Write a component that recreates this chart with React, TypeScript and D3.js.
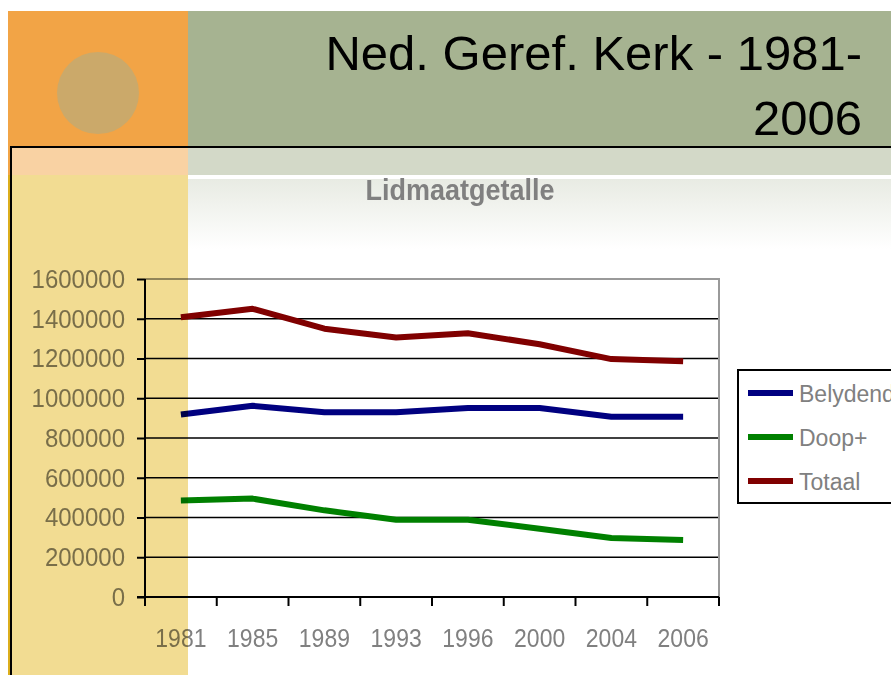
import * as d3 from 'd3';
import { useEffect, useRef } from 'react';

const years = ['1981', '1985', '1989', '1993', '1996', '2000', '2004', '2006'];
const belydende = [918000, 962000, 929000, 929000, 951000, 951000, 907000, 907000];
const doop = [485000, 495000, 436000, 389000, 389000, 343000, 297000, 287000];
const totaal = [1408000, 1450000, 1350000, 1306000, 1327000, 1272000, 1197000, 1186000];
const yTicks = [0, 200000, 400000, 600000, 800000, 1000000, 1200000, 1400000, 1600000];
const seriesNames = ['Belydende', 'Doop+', 'Totaal'];
const seriesColors = ['#000080', '#008000', '#800000'];

const FONT = '"Liberation Sans", Arial, sans-serif';

const App = () => {
  const svgRef = useRef(null);

  useEffect(() => {
    const svg = d3.select(svgRef.current);
    svg.selectAll('*').remove();

    const W = 891;
    const H = 675;
    const plot = { left: 145, right: 719, top: 279, bottom: 597 };

    const defs = svg.append('defs');
    const grad = defs.append('linearGradient')
      .attr('id', 'fade')
      .attr('x1', 0).attr('y1', 0).attr('x2', 0).attr('y2', 1);
    grad.append('stop').attr('offset', '0%').attr('stop-color', '#e8ebe3');
    grad.append('stop').attr('offset', '100%').attr('stop-color', '#ffffff');

    // slide background
    svg.append('rect').attr('width', W).attr('height', H).attr('fill', '#ffffff');
    svg.append('rect').attr('x', 8).attr('y', 11).attr('width', 180).attr('height', 164).attr('fill', '#f2a446');
    svg.append('rect').attr('x', 188).attr('y', 11).attr('width', W - 188).attr('height', 164).attr('fill', '#a6b391');
    svg.append('circle').attr('cx', 98).attr('cy', 93).attr('r', 41).attr('fill', '#cba96a');
    svg.append('rect').attr('x', 11).attr('y', 148).attr('width', W - 11).attr('height', 27)
      .attr('fill', '#ffffff').attr('opacity', 0.5);
    svg.append('rect').attr('x', 188).attr('y', 179).attr('width', W - 188).attr('height', 70)
      .attr('fill', 'url(#fade)');
    svg.append('rect').attr('x', 8).attr('y', 175).attr('width', 3).attr('height', H - 175).attr('fill', '#dcae1c');
    svg.append('line').attr('x1', 11).attr('x2', W).attr('y1', 147).attr('y2', 147)
      .attr('stroke', '#000').attr('stroke-width', 2);
    svg.append('line').attr('x1', 11).attr('x2', 11).attr('y1', 146).attr('y2', H)
      .attr('stroke', '#000').attr('stroke-width', 2);

    // slide title
    const title = svg.append('g')
      .style('font-family', FONT)
      .style('font-size', '49px')
      .attr('fill', '#000')
      .attr('text-anchor', 'end');
    title.append('text').attr('x', 862).attr('y', 70).text('Ned. Geref. Kerk - 1981-');
    title.append('text').attr('x', 862).attr('y', 135).text('2006');

    // chart title
    svg.append('text')
      .attr('transform', 'translate(460, 200) scale(1, 1.1)')
      .attr('text-anchor', 'middle')
      .style('font-family', FONT)
      .style('font-size', '27px')
      .style('font-weight', 'bold')
      .attr('fill', '#808080')
      .text('Lidmaatgetalle');

    const x = d3.scaleBand()
      .domain(years)
      .range([plot.left, plot.right])
      .padding(0);

    const y = d3.scaleLinear()
      .domain([0, 1600000])
      .range([plot.bottom, plot.top]);

    const cx = d => x(d) + x.bandwidth() / 2;

    // gridlines
    svg.append('g')
      .selectAll('line')
      .data(yTicks.slice(1, -1))
      .enter()
      .append('line')
      .attr('x1', plot.left).attr('x2', plot.right)
      .attr('y1', d => y(d)).attr('y2', d => y(d))
      .attr('stroke', '#000').attr('stroke-width', 1.6);

    // plot border (top / right)
    svg.append('path')
      .attr('d', `M${plot.left},${plot.top}H${plot.right}V${plot.bottom}`)
      .attr('fill', 'none').attr('stroke', '#9a9a9a').attr('stroke-width', 2);

    // y axis
    const yAxis = svg.append('g')
      .attr('transform', `translate(${plot.left},0)`)
      .call(d3.axisLeft(y).tickValues(yTicks).tickFormat(d3.format('d')).tickSize(8).tickPadding(12).tickSizeOuter(0));
    yAxis.select('.domain').remove();
    yAxis.selectAll('line').attr('stroke', '#000').attr('stroke-width', 2);
    yAxis.selectAll('text')
      .style('font-family', FONT)
      .style('font-size', '24px')
      .attr('transform', 'scale(1, 1.08)')
      .attr('fill', '#808080');
    svg.append('line')
      .attr('x1', plot.left).attr('x2', plot.left)
      .attr('y1', plot.top).attr('y2', plot.bottom + 9)
      .attr('stroke', '#000').attr('stroke-width', 2);

    // x axis
    svg.append('g')
      .selectAll('line')
      .data([...years.map(d => x(d)), plot.right])
      .enter()
      .append('line')
      .attr('x1', d => d).attr('x2', d => d)
      .attr('y1', plot.bottom).attr('y2', plot.bottom + 9)
      .attr('stroke', '#000').attr('stroke-width', 2);
    svg.append('line')
      .attr('x1', plot.left - 8).attr('x2', plot.right)
      .attr('y1', plot.bottom).attr('y2', plot.bottom)
      .attr('stroke', '#000').attr('stroke-width', 2);
    svg.append('g')
      .selectAll('text')
      .data(years)
      .enter()
      .append('text')
      .attr('transform', d => `translate(${cx(d)}, 647) scale(1, 1.12)`)
      .attr('text-anchor', 'middle')
      .style('font-family', FONT)
      .style('font-size', '23px')
      .attr('fill', '#808080')
      .text(d => d);

    // series lines
    const allSeries = [belydende, doop, totaal];
    const line = d3.line()
      .x((d, i) => cx(years[i]))
      .y(d => y(d));
    allSeries.forEach((vals, i) => {
      svg.append('path')
        .datum(vals)
        .attr('d', line)
        .attr('fill', 'none')
        .attr('stroke', seriesColors[i])
        .attr('stroke-width', 6)
        .attr('stroke-linejoin', 'round');
    });

    // left yellow column (multiplied over the chart)
    svg.append('rect').attr('x', 12).attr('y', 175).attr('width', 176).attr('height', H - 175)
      .attr('fill', '#f2dc92').style('mix-blend-mode', 'multiply');

    // legend
    const legend = svg.append('g');
    legend.append('rect')
      .attr('x', 738).attr('y', 370).attr('width', 200).attr('height', 133)
      .attr('fill', '#ffffff').attr('stroke', '#000').attr('stroke-width', 2);
    seriesNames.forEach((name, i) => {
      const ly = 393 + i * 44;
      legend.append('line')
        .attr('x1', 748).attr('x2', 793).attr('y1', ly).attr('y2', ly)
        .attr('stroke', seriesColors[i]).attr('stroke-width', 6);
      legend.append('text')
        .attr('x', 799).attr('y', ly + 9)
        .style('font-family', FONT)
        .style('font-size', '23px')
        .attr('fill', '#808080')
        .text(name);
    });
  }, []);

  return (
    <svg
      ref={svgRef}
      width={891}
      height={675}
      style={{ position: 'absolute', left: 0, top: 0, display: 'block' }}
    ></svg>
  );
};

export default App;
